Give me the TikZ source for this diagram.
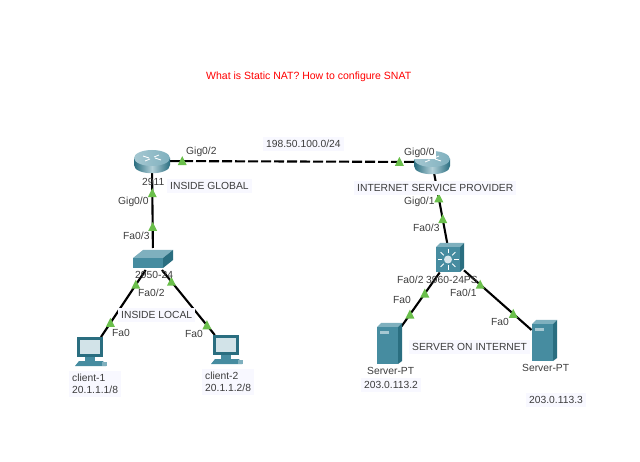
\documentclass[tikz,border=0pt]{standalone}
\usepackage{fontspec}
\setmainfont{Liberation Sans}
\definecolor{linkgreen}{HTML}{6ABF4B}
\definecolor{labelbg}{HTML}{F8F8FF}
\definecolor{labeltxt}{HTML}{3C3C3C}
\definecolor{tealtop}{HTML}{7FB0BE}
\definecolor{tealmid}{HTML}{468CA0}
\definecolor{tealdark}{HTML}{2A6E80}
\tikzset{
  devbox/.style={inner sep=0pt, outer sep=0pt},
  wire/.style={line width=2.1pt, black},
  lbl/.style={anchor=west, inner sep=0pt, text=labeltxt, font=\fontsize{10.3}{12}\selectfont},
  boxlbl/.style={lbl, fill=labelbg, inner sep=3pt, align=left},
  linklight/.pic={\fill[linkgreen] (-4.5,4) -- (4.5,4) -- (0,-5) -- cycle;},
  routericon/.pic={
    \shade[left color=tealdark, right color=tealdark, middle color=tealtop!60!white]
      (-18,-3) -- (-18,4) .. controls (-18,15) and (18,15) .. (18,4) -- (18,-3) -- cycle;
    \shade[left color=tealtop!70!white, right color=tealtop] (0,-3) ellipse [x radius=18, y radius=8];
    \draw[white, line width=0.8pt] (-9,-5) -- (-3,-3) (9,-1) -- (3,-3) (-7,0) -- (-2,-2) (7,-6) -- (2,-4);
  },
  sw2950icon/.pic={
    \fill[tealtop] (-20,-1) -- (-10,-9) -- (20,-9) -- (10,-1) -- cycle;
    \fill[tealmid] (-20,-1) rectangle (10,9);
    \fill[tealdark] (10,-1) -- (20,-9) -- (20,1) -- (10,9) -- cycle;
  },
  sw3960icon/.pic={
    \fill[tealtop] (-14,-11) -- (-10,-15) -- (14,-15) -- (10,-11) -- cycle;
    \fill[tealmid] (-14,-11) rectangle (10,14);
    \fill[tealdark] (10,-11) -- (14,-15) -- (14,10) -- (10,14) -- cycle;
    \fill[white!70!tealtop] (-2,1.5) circle [radius=4];
    \foreach \ang in {0,45,...,315}
      \draw[white, line width=0.8pt] (-2,1.5) ++(\ang:6) -- ++(\ang:4.5);
  },
  pcicon/.pic={
    \fill[tealdark] (-14,-15) rectangle (12,5);
    \fill[white!65!tealtop] (-11,-12) rectangle (9,2);
    \fill[tealmid] (-6,5) rectangle (4,9);
    \fill[tealmid] (-16,14) -- (-12,9) -- (12,9) -- (15,14) -- cycle;
    \fill[tealtop] (11,10) rectangle (16,14);
  },
  servericon/.pic={
    \fill[tealtop] (-12,-17) -- (-8,-21) -- (13,-21) -- (9,-17) -- cycle;
    \fill[tealmid] (-12,-17) rectangle (9,20);
    \fill[tealdark] (9,-17) -- (13,-21) -- (13,17) -- (9,20) -- cycle;
    \fill[tealtop!70!white] (-9,-13) rectangle (0,-10);
  }
}
\begin{document}
\begin{tikzpicture}[x=1pt, y=-1pt]
    \useasboundingbox (0,0) rectangle (640,462);
    \foreach \nm/\x/\y/\bw/\bh in {
      r2911/152/161/36/24,
      rISP/432/162/36/24,
      sw2950/153/259/41/22,
      sw3960/450/258/28/29,
      pc1/91/352/32/30,
      pc2/227/350/31/30,
      srv1/389/344/25/42,
      srv2/544/341/25/42}
      {
        \node[devbox, minimum width=\bw, minimum height=\bh] (\nm) at (\x,\y) {};
      }
    \draw[wire, dash pattern=on 10pt off 3pt] (r2911) -- pic[pos=.05]{linklight} pic[pos=.94]{linklight} (rISP);
    \draw[wire] (r2911) -- pic[pos=.27]{linklight} pic[pos=.72]{linklight} (sw2950);
    \draw[wire] (sw2950) -- pic[pos=.22]{linklight} pic[pos=.79]{linklight} (pc1);
    \draw[wire] (sw2950) -- pic[pos=.18]{linklight} pic[pos=.85]{linklight} (pc2);
    \draw[wire] (rISP) -- pic[pos=.35]{linklight} pic[pos=.65]{linklight} (sw3960);
    \draw[wire] (sw3960) -- pic[pos=.39]{linklight} pic[pos=.78]{linklight} (srv1);
    \draw[wire] (sw3960) -- pic[pos=.24]{linklight} pic[pos=.73]{linklight} (srv2);
    \pic at (r2911) {routericon};
    \pic at (rISP) {routericon};
    \pic at (sw2950) {sw2950icon};
    \pic at (sw3960) {sw3960icon};
    \pic at (pc1) {pcicon};
    \pic at (pc2) {pcicon};
    \pic at (srv1) {servericon};
    \pic at (srv2) {servericon};
    \node[lbl, text=red, font=\fontsize{10.5}{12}\selectfont] (title) at (206,77) {What is Static NAT? How to configure SNAT};
    \foreach \nm/\x/\y/\et in {
      net/263/144/{198.50.100.0/24},
      inglobal/167/186/{INSIDE GLOBAL},
      isp/354/188/{INTERNET SERVICE PROVIDER},
      inlocal/118/315/{INSIDE LOCAL},
      cl1/69/384/{client-1\\20.1.1.1/8},
      cl2/202/382/{client-2\\20.1.1.2/8},
      srvnet/409/347/{SERVER ON INTERNET},
      ipa/361/385/{203.0.113.2},
      ipb/526/400/{203.0.113.3}}
      {
        \node[boxlbl] (\nm) at (\x,\y) {\et};
      }
    \node[lbl, fill=white, inner sep=1pt] (gigc) at (403,153) {Gig0/0};
    \foreach \nm/\x/\y/\et in {
      gigb/186/152/{Gig0/2},
      rname/142/182/{2911},
      giga/118/202/{Gig0/0},
      gigd/404/202/{Gig0/1},
      faa/123/236/{Fa0/3},
      fab/413/228/{Fa0/3},
      swname/135/275/{2950-24},
      fac/138/293/{Fa0/2},
      fad/397/280/{Fa0/2},
      swnameb/426/280/{3960-24PS},
      fae/450/293/{Fa0/1},
      faf/393/300/{Fa0},
      fag/112/333/{Fa0},
      fah/185/334/{Fa0},
      fai/491/322/{Fa0},
      srvnamea/367/371/{Server-PT},
      srvnameb/522/368/{Server-PT}}
      {
        \node[lbl] (\nm) at (\x,\y) {\et};
      }
  \end{tikzpicture}
\end{document}
